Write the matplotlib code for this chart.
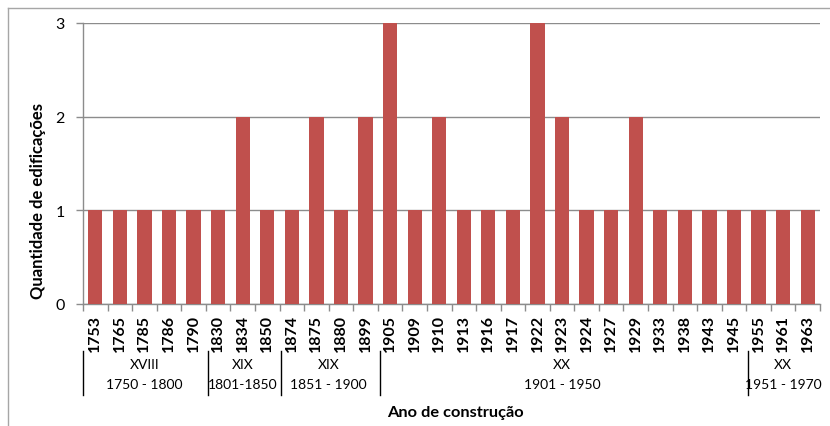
import matplotlib
matplotlib.use("Agg")
import matplotlib.pyplot as plt
from matplotlib.lines import Line2D
import matplotlib.transforms as mtransforms

plt.rcParams['font.family'] = ['Lato', 'DejaVu Sans']

years = ["1753", "1765", "1785", "1786", "1790", "1830", "1834", "1850", "1874", "1875",
         "1880", "1899", "1905", "1909", "1910", "1913", "1916", "1917", "1922", "1923",
         "1924", "1927", "1929", "1933", "1938", "1943", "1945", "1955", "1961", "1963"]
counts = [1, 1, 1, 1, 1, 1, 2, 1, 1, 2,
          1, 2, 3, 1, 2, 1, 1, 1, 3, 2,
          1, 1, 2, 1, 1, 1, 1, 1, 1, 1]
group_centuries = ["XVIII", "XIX", "XIX", "XX", "XX"]
group_ranges = ["1750 - 1800", "1801-1850", "1851 - 1900", "1901 - 1950", "1951 - 1970"]
group_sizes = [5, 3, 4, 15, 3]

W, H = 830, 427
fig = plt.figure(figsize=(W / 100, H / 100), dpi=100)
ax = fig.add_axes([83 / W, 1 - 305 / H, (820 - 83) / W, (305 - 24) / H])

x = list(range(len(years)))
ax.bar(x, counts, width=0.58, color="#C0504D", zorder=3)
ax.set_xlim(-0.5, len(years) - 0.5)
ax.set_ylim(0, 3)
ax.set_yticks([0, 1, 2, 3])
ax.yaxis.grid(True, color="#8c8c8c", linewidth=1.0, zorder=0)
ax.set_axisbelow(True)

# x ticks at category boundaries, labels at centers
ax.set_xticks([i - 0.5 for i in range(len(years) + 1)])
ax.set_xticklabels([])
ax.set_xticks(x, minor=True)
ax.set_xticklabels(years, minor=True, rotation=90, fontweight="bold", fontsize=11.5)
ax.tick_params(axis="x", which="minor", length=0, pad=7)
ax.tick_params(axis="x", which="major", length=5, color="#8c8c8c", width=1)
ax.tick_params(axis="y", length=5, color="#8c8c8c", width=1, labelsize=11.5, pad=8)

for s in ["top", "right"]:
    ax.spines[s].set_visible(False)
for s in ["left", "bottom"]:
    ax.spines[s].set_color("#8c8c8c")
    ax.spines[s].set_linewidth(1)

fig.text(38 / W, 1 - 201 / H, "Quantidade de edificações", rotation=90,
         ha="center", va="center", fontweight="bold", fontsize=12)

# group annotations
trans = mtransforms.blended_transform_factory(ax.transData, fig.transFigure)
start = 0
bounds = [-0.5]
for size in group_sizes:
    start += size
    bounds.append(start - 0.5)
for i, b in enumerate(bounds[:-1]):
    off = 0.0 if i in (0,) else 0.08
    fig.add_artist(Line2D([b + off, b + off], [1 - 352 / H, 1 - 396 / H],
                          transform=trans, color="black", linewidth=1))
for i in range(len(group_sizes)):
    cx = (bounds[i] + bounds[i + 1]) / 2
    fig.text(cx, 1 - 365 / H, group_centuries[i], transform=trans,
             ha="center", va="center", fontsize=10)
    fig.text(cx, 1 - 385 / H, group_ranges[i], transform=trans,
             ha="center", va="center", fontsize=10)

fig.text(455 / W, 1 - 413 / H, "Ano de construção", ha="center", va="center",
         fontweight="bold", fontsize=11.8)

# outer frame (top and left visible)
fig.add_artist(Line2D([8 / W, 1.0], [1 - 9 / H, 1 - 9 / H], transform=fig.transFigure,
                      color="#a6a6a6", linewidth=1))
fig.add_artist(Line2D([8 / W, 8 / W], [0, 1 - 9 / H], transform=fig.transFigure,
                      color="#a6a6a6", linewidth=1))

fig.savefig("out.png", dpi=100)
